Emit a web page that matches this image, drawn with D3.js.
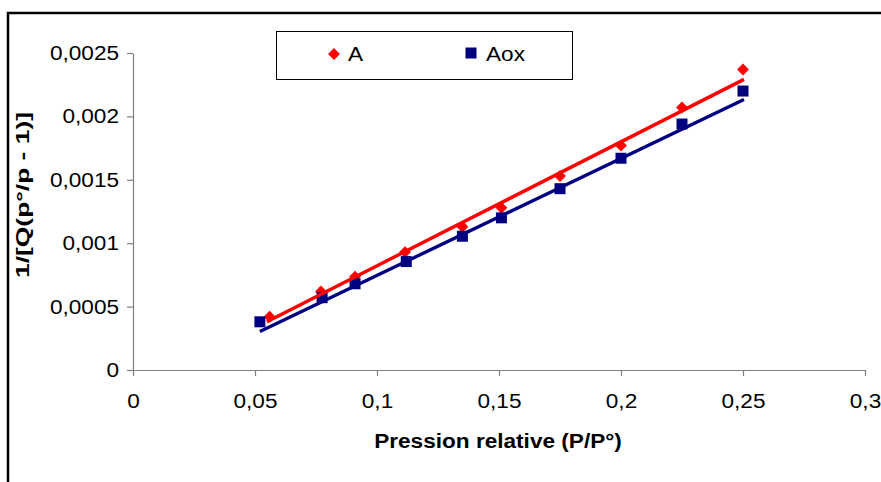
<!DOCTYPE html>
<html>
<head>
<meta charset="utf-8">
<script src="https://cdn.jsdelivr.net/npm/d3@7"></script>
<style>
  html, body { margin: 0; padding: 0; background: #fff; }
  svg { display: block; }
  text { font-family: "Liberation Sans", Arial, sans-serif; }
</style>
</head>
<body>
<svg id="chart" width="881" height="482"></svg>
<script>
// ---- Data ----
const seriesNames = ["A", "Aox"];
const pressA = [0.056, 0.077, 0.091, 0.1115, 0.135, 0.151, 0.175, 0.2, 0.225, 0.25];
const valuesA = [0.00042, 0.00062, 0.000735, 0.00093, 0.00113, 0.00128, 0.00153, 0.00177, 0.00207, 0.00237];
const pressAox = [0.052, 0.0775, 0.091, 0.112, 0.135, 0.151, 0.175, 0.2, 0.225, 0.25];
const valuesAox = [0.00038, 0.00057, 0.00068, 0.000855, 0.001055, 0.0012, 0.00143, 0.00167, 0.00194, 0.0022];
// linear trend lines (start / end)
const trendAx = [0.0549, 0.2504];
const trendAy = [0.000381, 0.002292];
const trendAoxX = [0.052, 0.2504];
const trendAoxY = [0.000303, 0.002134];
const xTicks = [0, 0.05, 0.1, 0.15, 0.2, 0.25, 0.3];
const yTicks = [0, 0.0005, 0.001, 0.0015, 0.002, 0.0025];
const xTitle = "Pression relative (P/P°)";
const yTitle = "1/[Q(p°/p - 1)]";

const svg = d3.select("#chart");
const fmt = v => String(v).replace(".", ",");
const STRETCH = 1.13;
function stretch(sel, factor) {
  sel.each(function () {
    const w = this.getComputedTextLength();
    d3.select(this).attr("textLength", w * factor).attr("lengthAdjust", "spacingAndGlyphs");
  });
}

// outer frame
svg.append("rect")
  .attr("x", 8).attr("y", 13).attr("width", 900).attr("height", 500)
  .attr("fill", "#fff").attr("stroke", "#000").attr("stroke-width", 2.5);

const x = d3.scaleLinear().domain([0, 0.3]).range([133, 865]);
const y = d3.scaleLinear().domain([0, 0.0025]).range([370, 53]);

// axes
const xAxis = d3.axisBottom(x).tickValues(xTicks).tickFormat(fmt).tickSizeInner(6).tickSizeOuter(0).tickPadding(18);
const yAxis = d3.axisLeft(y).tickValues(yTicks).tickFormat(fmt).tickSizeInner(6).tickSizeOuter(0).tickPadding(8);

const gx = svg.append("g").attr("transform", `translate(0,${y(0)})`).call(xAxis);
const gy = svg.append("g").attr("transform", `translate(${x(0)},0)`).call(yAxis);
[gx, gy].forEach(g => {
  g.select(".domain").attr("stroke", "#808080").attr("stroke-width", 1.2);
  g.selectAll(".tick line").attr("stroke", "#808080").attr("stroke-width", 1.2);
  g.selectAll(".tick text").attr("fill", "#000").attr("font-size", 20)
    .attr("font-family", "'Liberation Sans', Arial, sans-serif");
  stretch(g.selectAll(".tick text"), STRETCH);
});

// axis titles
const xt = svg.append("text").attr("x", 498).attr("y", 448).attr("text-anchor", "middle")
  .attr("font-size", 20).attr("font-weight", "bold").text(xTitle);
stretch(xt, STRETCH);
const yt = svg.append("text").attr("transform", `translate(29,195) rotate(-90)`).attr("text-anchor", "middle")
  .attr("font-size", 19).attr("font-weight", "bold").text(yTitle);
yt.attr("textLength", 166).attr("lengthAdjust", "spacingAndGlyphs");

const red = "#FF0000", navy = "#000080";
const diamond = d3.symbol().type(d3.symbolDiamond2).size(90);
const square = d3.symbol().type(d3.symbolSquare).size(121);

const dataA = pressA.map((p, i) => [p, valuesA[i]]);
const dataAox = pressAox.map((p, i) => [p, valuesAox[i]]);

svg.append("g").selectAll("path").data(dataA).join("path")
  .attr("d", diamond).attr("fill", red)
  .attr("transform", d => `translate(${x(d[0])},${y(d[1])})`);
svg.append("g").selectAll("path").data(dataAox).join("path")
  .attr("d", square).attr("fill", navy)
  .attr("transform", d => `translate(${x(d[0])},${y(d[1])})`);

const line = d3.line().x(d => x(d[0])).y(d => y(d[1]));
svg.append("path").datum(trendAx.map((v, i) => [v, trendAy[i]]))
  .attr("d", line).attr("stroke", red).attr("stroke-width", 3.4).attr("fill", "none");
svg.append("path").datum(trendAoxX.map((v, i) => [v, trendAoxY[i]]))
  .attr("d", line).attr("stroke", navy).attr("stroke-width", 3.4).attr("fill", "none");

// legend
const lg = svg.append("g");
lg.append("rect").attr("x", 276.5).attr("y", 31.5).attr("width", 296).attr("height", 48)
  .attr("fill", "#fff").attr("stroke", "#000").attr("stroke-width", 1);
lg.append("path").attr("d", diamond).attr("fill", red).attr("transform", "translate(334,54)");
const l1 = lg.append("text").attr("x", 348).attr("y", 61).attr("font-size", 20).text(seriesNames[0]);
lg.append("path").attr("d", square).attr("fill", navy).attr("transform", "translate(471,53)");
const l2 = lg.append("text").attr("x", 486).attr("y", 61).attr("font-size", 20).text(seriesNames[1]);
stretch(l1, STRETCH);
stretch(l2, STRETCH);
</script>
</body>
</html>
